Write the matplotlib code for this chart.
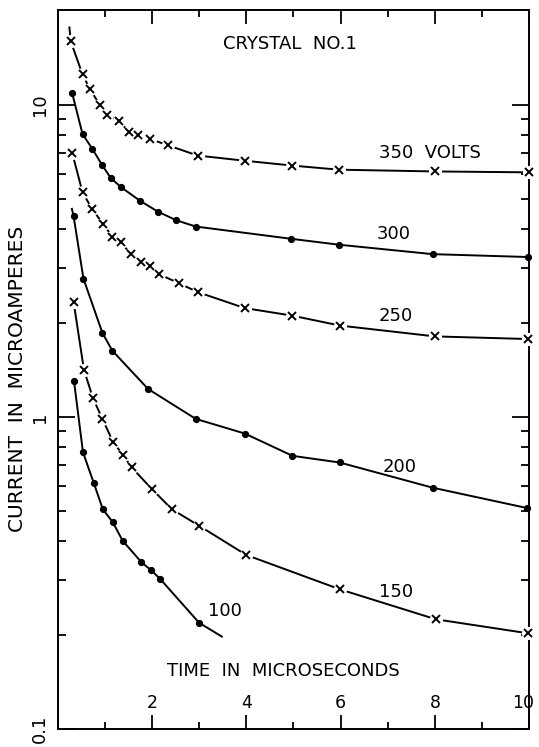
import numpy as np
import matplotlib
matplotlib.use("Agg")
import matplotlib.pyplot as plt
from matplotlib.ticker import FixedLocator, NullFormatter
from matplotlib.transforms import ScaledTranslation

# time in microseconds / current in microamperes
t350 = [0.28, 0.53, 0.69, 0.90, 1.04, 1.30, 1.51, 1.71, 1.97, 2.34, 2.97, 3.98, 4.98, 5.96, 8.0, 10.0]
i350 = [15.96, 12.5, 11.2, 9.96, 9.29, 8.87, 8.2, 8.01, 7.76, 7.41, 6.87, 6.61, 6.38, 6.19, 6.11, 6.07]

t300 = [0.31, 0.53, 0.74, 0.95, 1.13, 1.34, 1.75, 2.13, 2.52, 2.93, 4.94, 5.96, 7.95, 9.98]
i300 = [10.9, 8.05, 7.21, 6.39, 5.82, 5.45, 4.92, 4.54, 4.26, 4.07, 3.72, 3.56, 3.32, 3.25]

t250 = [0.31, 0.53, 0.73, 0.96, 1.16, 1.34, 1.56, 1.77, 1.97, 2.16, 2.57, 2.97, 3.97, 4.97, 5.99, 8.0, 9.98]
i250 = [7.02, 5.24, 4.64, 4.16, 3.78, 3.62, 3.32, 3.13, 3.04, 2.86, 2.68, 2.51, 2.23, 2.11, 1.96, 1.81, 1.775]

t200 = [0.34, 0.55, 0.95, 1.16, 1.92, 2.93, 3.97, 4.98, 5.98, 7.95, 9.96]
i200 = [4.40, 2.77, 1.86, 1.63, 1.228, 0.985, 0.884, 0.75, 0.714, 0.593, 0.51]

t150 = [0.34, 0.56, 0.75, 0.95, 1.18, 1.39, 1.57, 2.0, 2.43, 3.0, 4.0, 5.99, 8.02, 9.98]
i150 = [2.34, 1.415, 1.15, 0.985, 0.83, 0.754, 0.689, 0.587, 0.505, 0.448, 0.361, 0.280, 0.2246, 0.2025]

t100 = [0.35, 0.54, 0.77, 0.96, 1.17, 1.38, 1.78, 1.99, 2.18, 3.0]
i100 = [1.30, 0.77, 0.613, 0.506, 0.46, 0.401, 0.342, 0.322, 0.302, 0.219]

# where the hand-drawn curves run past the measured points
start350 = (0.25, 17.8)
start200 = (0.30, 4.67)
end100 = (3.5, 0.197)

curve_labels = ["350  VOLTS", "300", "250", "200", "150", "100"]
label_t = [7.89, 7.13, 7.16, 7.25, 7.18, 3.54]
label_i = [6.99, 3.85, 2.11, 0.689, 0.274, 0.238]

plt.rcParams["font.family"] = ["DejaVu Sans"]

fig = plt.figure(figsize=(5.39, 7.47), dpi=100)
ax = fig.add_axes([0.1067, 0.0241, 0.8753, 0.9625])
ax.set_yscale("log")
ax.set_xlim(0, 10)
ax.set_ylim(0.1, 20.1)


def draw(tx, iy, marker, start=None, end=None):
    lt, li = list(tx), list(iy)
    if start:
        lt, li = [start[0]] + lt, [start[1]] + li
    if end:
        lt, li = lt + [end[0]], li + [end[1]]
    ax.plot(lt, li, color="k", lw=1.4, zorder=2, solid_capstyle="butt")
    if marker == "x":
        # the original leaves a small gap in the line round each cross
        ax.plot(tx, iy, "o", ms=9.5, color="white", mec="none", zorder=3, clip_on=False)
        ax.plot(tx, iy, "x", ms=5.5, mew=1.4, color="k", zorder=4, clip_on=False)
    else:
        ax.plot(tx, iy, "o", ms=4.2, color="k", zorder=4, clip_on=False)


draw(t350, i350, "x", start=start350)
draw(t300, i300, "o")
draw(t250, i250, "x")
draw(t200, i200, "o", start=start200)
draw(t150, i150, "x")
draw(t100, i100, "o", end=end100)

for s, x, y in zip(curve_labels, label_t, label_i):
    ax.text(x, y, s, ha="center", va="center", fontsize=13)

ax.text(4.92, 15.6, "CRYSTAL  NO.1", ha="center", va="center", fontsize=13)
ax.text(4.78, 0.153, "TIME  IN  MICROSECONDS", ha="center", va="center", fontsize=13)
fig.text(18 / 539, 1 - 379 / 747, "CURRENT  IN  MICROAMPERES", rotation=90,
         ha="center", va="center", fontsize=14.5)

# ticks
ax.set_xticks([2, 4, 6, 8, 10])
ax.set_xticks([1, 3, 5, 7, 9], minor=True)
ax.tick_params(axis="x", which="both", direction="in", top=True, bottom=True,
               pad=-25, labelsize=12.5)
ax.tick_params(axis="x", which="major", length=10, width=1.3)
ax.tick_params(axis="x", which="minor", length=5, width=1.3)

ax.set_yticks([0.1, 1, 10])
ax.set_yticklabels(["0.1", "1", "10"], rotation=90, va="center")
minor_y = [k * 10.0 ** e for e in (-1, 0, 1) for k in range(2, 10) if k * 10.0 ** e < 20]
ax.yaxis.set_minor_locator(FixedLocator(minor_y))
ax.yaxis.set_minor_formatter(NullFormatter())
ax.tick_params(axis="y", which="both", direction="in", left=True, right=True,
               pad=6, labelsize=13)
ax.tick_params(axis="y", which="major", length=12, width=1.3)
ax.tick_params(axis="y", which="minor", length=6, width=1.3)

# last x label sits against the right edge of the page
last = ax.get_xticklabels()[-1]
last.set_transform(last.get_transform() + ScaledTranslation(-6 / 100, 0, fig.dpi_scale_trans))

for sp in ax.spines.values():
    sp.set_linewidth(1.4)

fig.savefig("out.png", dpi=100)
